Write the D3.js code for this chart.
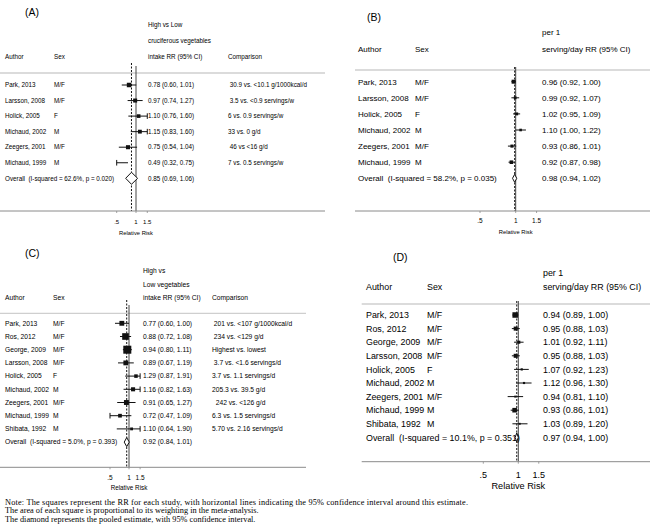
<!DOCTYPE html>
<html>
<head>
<meta charset="utf-8">
<script src="https://cdn.jsdelivr.net/npm/d3@7"></script>
<style>
  body { margin: 0; background: #fff; }
  svg text { font-family: "Liberation Sans", Arial, sans-serif; fill: #000; white-space: pre; }
  svg text.note { font-family: "Liberation Serif", "Times New Roman", serif; }
</style>
</head>
<body>
<div class="chart"></div>
<script>
// ---- data ----
// (A) high vs low cruciferous vegetables
var authorsA = ["Park, 2013", "Larsson, 2008", "Holick, 2005", "Michaud, 2002", "Zeegers, 2001", "Michaud, 1999"];
var sexA = ["M/F", "M/F", "F", "M", "M/F", "M"];
var rrA = [0.78, 0.97, 1.10, 1.15, 0.75, 0.49];
var loA = [0.60, 0.74, 0.76, 0.83, 0.54, 0.32];
var hiA = [1.01, 1.27, 1.60, 1.60, 1.04, 0.75];
var weightA = [21.5, 17.2, 14.0, 15.6, 17.5, 14.2];
var compA = [" 30.9 vs. <10.1 g/1000kcal/d", " 3.5 vs. <0.9 servings/w", "6 vs. 0.9 servings/w", "33 vs. 0 g/d", " 46 vs <16 g/d", "7 vs. 0.5 servings/w"];
var overallA = [0.85, 0.69, 1.06];
var hetA = "Overall  (I-squared = 62.6%, p = 0.020)";

// (B) per 1 serving/day cruciferous
var authorsB = authorsA;
var sexB = sexA;
var rrB = [0.96, 0.99, 1.02, 1.10, 0.93, 0.92];
var loB = [0.92, 0.92, 0.95, 1.00, 0.86, 0.87];
var hiB = [1.00, 1.07, 1.09, 1.22, 1.01, 0.98];
var weightB = [26.0, 12.5, 14.0, 11.0, 15.5, 21.0];
var overallB = [0.98, 0.94, 1.02];
var hetB = "Overall  (I-squared = 58.2%, p = 0.035)";

// (C) high vs low vegetables
var authorsC = ["Park, 2013", "Ros, 2012", "George, 2009", "Larsson, 2008", "Holick, 2005", "Michaud, 2002", "Zeegers, 2001", "Michaud, 1999", "Shibata, 1992"];
var sexC = ["M/F", "M/F", "M/F", "M/F", "F", "M", "M/F", "M", "M"];
var rrC = [0.77, 0.88, 0.94, 0.89, 1.29, 1.16, 0.91, 0.72, 1.10];
var loC = [0.60, 0.72, 0.80, 0.67, 0.87, 0.82, 0.65, 0.47, 0.64];
var hiC = [1.00, 1.08, 1.11, 1.19, 1.91, 1.63, 1.27, 1.09, 1.90];
var weightC = [9.5, 17.8, 26.0, 9.4, 5.0, 6.7, 9.8, 5.6, 3.2];
var compC = [" 201 vs. <107 g/1000kcal/d", " 234 vs. <129 g/d", "Highest vs. lowest", " 3.7 vs. <1.6 servings/d", "3.7 vs. 1.1 servings/d", "205.3 vs. 39.5 g/d", "  242 vs. <126 g/d", "6.3 vs. 1.5 servings/d", "5.70 vs. 2.16 servings/d"];
var overallC = [0.92, 0.84, 1.01];
var hetC = "Overall  (I-squared = 5.0%, p = 0.393)";

// (D) per 1 serving/day vegetables
var authorsD = authorsC;
var sexD = sexC;
var rrD = [0.94, 0.95, 1.01, 0.95, 1.07, 1.12, 0.94, 0.93, 1.03];
var loD = [0.89, 0.88, 0.92, 0.88, 0.92, 0.96, 0.81, 0.86, 0.89];
var hiD = [1.00, 1.03, 1.11, 1.03, 1.23, 1.30, 1.10, 1.01, 1.20];
var weightD = [27.5, 14.8, 8.6, 14.8, 4.4, 4.2, 3.3, 19.2, 3.2];
var overallD = [0.97, 0.94, 1.00];
var hetD = "Overall  (I-squared = 10.1%, p = 0.351)";

var tickValues = [0.5, 1, 1.5];
var tickLabels = [".5", "1", "1.5"];
var notes = [
  "Note: The squares represent the RR for each study, with horizontal lines indicating the 95% confidence interval around this estimate.",
  "The area of each square is proportional to its weighting in the meta-analysis.",
  "The diamond represents the pooled estimate, with 95% confidence interval."
];

// ---- layout ----
var width = 650, height = 527;
var svg = d3.select(".chart").append("svg")
  .attr("width", width)
  .attr("height", height);

var panels = [
  { tag: "(A)", tagX: 25, tagY: 16, fs: 6.3, tickFs: 6, rrFs: 5.8, tickDy: 10.7, rrDy: 22,
    authors: authorsA, sex: sexA, rr: rrA, lo: loA, hi: hiA, w: weightA, comp: compA,
    overall: overallA, het: hetA,
    rrHead: ["High vs Low", "cruciferous vegetables", "intake RR (95% CI)"], headY0: 25, headStep: 16,
    xAuthor: 5, xSex: 54, xRR: 148, xComp: 228,
    sepY: 73, left: 0, right: 325, row0: 85, step: 15.55, axisY: 211,
    x05: 116.7, x1: 136, sq: 0.97, dia: 6, nullTop: 66, dashTop: 63 },
  { tag: "(B)", tagX: 367, tagY: 21, fs: 8, tickFs: 6.5, rrFs: 5.8, tickDy: 9.5, rrDy: 21,
    authors: authorsB, sex: sexB, rr: rrB, lo: loB, hi: hiB, w: weightB, comp: null,
    overall: overallB, het: hetB,
    rrHead: ["per 1", "serving/day RR (95% CI)"], headY0: 32, headStep: 17,
    xAuthor: 358, xSex: 415, xRR: 542,
    sepY: 70, left: 355, right: 650, row0: 81.7, step: 16.1, axisY: 211,
    x05: 480, x1: 515.7, sq: 0.78, dia: 4, nullTop: 67, dashTop: 67 },
  { tag: "(C)", tagX: 25, tagY: 257, fs: 6.7, tickFs: 6.5, rrFs: 6.3, tickDy: 10, rrDy: 20,
    authors: authorsC, sex: sexC, rr: rrC, lo: loC, hi: hiC, w: weightC, comp: compC,
    overall: overallC, het: hetC,
    rrHead: ["High vs", "Low vegetables", "intake RR (95% CI)"], headY0: 271, headStep: 13.2,
    xAuthor: 5, xSex: 53, xRR: 143, xComp: 212,
    sepY: 313.3, left: 0, right: 306, row0: 323.3, step: 13.2, axisY: 467.3,
    x05: 110, x1: 129, sq: 1.57, dia: 4.5, nullTop: 305, dashTop: 300 },
  { tag: "(D)", tagX: 393, tagY: 261, fs: 8.9, tickFs: 9, rrFs: 9.2, tickDy: 13.3, rrDy: 24.3,
    authors: authorsD, sex: sexD, rr: rrD, lo: loD, hi: hiD, w: weightD, comp: null,
    overall: overallD, het: hetD,
    rrHead: ["per 1", "serving/day RR (95% CI)"], headY0: 273.3, headStep: 14,
    xAuthor: 366, xSex: 427, xRR: 543,
    sepY: 304, left: 361.7, right: 650, row0: 315, step: 13.6, axisY: 461.7,
    x05: 483.3, x1: 518.3, sq: 1.05, dia: 4.5, nullTop: 301, dashTop: 301 }
];

var fmt = d3.format(".2f");

panels.forEach(function (p) {
  var g = svg.append("g");
  var x = d3.scaleLog().domain([0.5, 1]).range([p.x05, p.x1]);
  var nRows = p.authors.length;
  var rowY = function (i) { return p.row0 + i * p.step; };
  var overallY = rowY(nRows);

  g.append("text").attr("x", p.tagX).attr("y", p.tagY)
    .style("font-size", "10.5px").text(p.tag);

  // column headers
  var headLast = p.headY0 + (p.rrHead.length - 1) * p.headStep;
  p.rrHead.forEach(function (t, i) {
    g.append("text").attr("x", p.xRR).attr("y", p.headY0 + i * p.headStep)
      .attr("dy", "0.35em").style("font-size", p.fs + "px").text(t);
  });
  g.append("text").attr("x", p.xAuthor).attr("y", headLast).attr("dy", "0.35em")
    .style("font-size", p.fs + "px").text("Author");
  g.append("text").attr("x", p.xSex).attr("y", headLast).attr("dy", "0.35em")
    .style("font-size", p.fs + "px").text("Sex");
  if (p.comp) {
    g.append("text").attr("x", p.xComp).attr("y", headLast).attr("dy", "0.35em")
      .style("font-size", p.fs + "px").text("Comparison");
  }

  g.append("line")
    .attr("x1", p.left).attr("x2", p.right)
    .attr("y1", p.sepY).attr("y2", p.sepY)
    .attr("stroke", "#cfcfcf").attr("stroke-width", 1.3);

  // null line and pooled estimate line
  g.append("line")
    .attr("x1", x(1)).attr("x2", x(1))
    .attr("y1", p.nullTop).attr("y2", p.axisY)
    .attr("stroke", "#444").attr("stroke-width", 1);
  g.append("line")
    .attr("x1", x(p.overall[0])).attr("x2", x(p.overall[0]))
    .attr("y1", p.dashTop).attr("y2", p.axisY)
    .attr("stroke", "#111").attr("stroke-width", 1)
    .attr("stroke-dasharray", "2,1.5");

  var rows = d3.range(nRows).map(function (i) {
    return { i: i, author: p.authors[i], sex: p.sex[i], rr: p.rr[i], lo: p.lo[i], hi: p.hi[i],
             w: p.w[i], comp: p.comp ? p.comp[i] : null };
  });

  var row = g.selectAll(".row").data(rows).enter().append("g").attr("class", "row");

  row.append("text").attr("x", p.xAuthor).attr("y", function (d) { return rowY(d.i); })
    .attr("dy", "0.35em").style("font-size", p.fs + "px").text(function (d) { return d.author; });
  row.append("text").attr("x", p.xSex).attr("y", function (d) { return rowY(d.i); })
    .attr("dy", "0.35em").style("font-size", p.fs + "px").text(function (d) { return d.sex; });
  row.append("text").attr("x", p.xRR).attr("y", function (d) { return rowY(d.i); })
    .attr("dy", "0.35em").style("font-size", p.fs + "px")
    .text(function (d) { return fmt(d.rr) + " (" + fmt(d.lo) + ", " + fmt(d.hi) + ")"; });
  if (p.comp) {
    row.append("text").attr("x", p.xComp).attr("y", function (d) { return rowY(d.i); })
      .attr("dy", "0.35em").style("font-size", p.fs + "px").text(function (d) { return d.comp; });
  }

  // confidence intervals, clipped to the axis range
  row.append("line")
    .attr("x1", function (d) { return x(Math.max(d.lo, 0.5)); })
    .attr("x2", function (d) { return x(Math.min(d.hi, 1.5)); })
    .attr("y1", function (d) { return rowY(d.i); })
    .attr("y2", function (d) { return rowY(d.i); })
    .attr("stroke", "#111").attr("stroke-width", 1);
  row.filter(function (d) { return d.lo < 0.5; }).append("line")
    .attr("x1", x(0.5)).attr("x2", x(0.5))
    .attr("y1", function (d) { return rowY(d.i) - 2.8; })
    .attr("y2", function (d) { return rowY(d.i) + 2.8; })
    .attr("stroke", "#111").attr("stroke-width", 1);
  row.filter(function (d) { return d.hi > 1.5; }).append("line")
    .attr("x1", x(1.5)).attr("x2", x(1.5))
    .attr("y1", function (d) { return rowY(d.i) - 2.8; })
    .attr("y2", function (d) { return rowY(d.i) + 2.8; })
    .attr("stroke", "#111").attr("stroke-width", 1);

  // weight squares
  row.filter(function (d) { return d.rr >= 0.5 && d.rr <= 1.5; }).append("rect")
    .attr("x", function (d) { return x(d.rr) - Math.sqrt(d.w) * p.sq / 2; })
    .attr("y", function (d) { return rowY(d.i) - Math.sqrt(d.w) * p.sq / 2; })
    .attr("width", function (d) { return Math.sqrt(d.w) * p.sq; })
    .attr("height", function (d) { return Math.sqrt(d.w) * p.sq; })
    .attr("fill", "#111");

  // pooled row
  g.append("text").attr("x", p.xAuthor).attr("y", overallY).attr("dy", "0.35em")
    .style("font-size", p.fs + "px").text(p.het);
  g.append("text").attr("x", p.xRR).attr("y", overallY).attr("dy", "0.35em")
    .style("font-size", p.fs + "px")
    .text(fmt(p.overall[0]) + " (" + fmt(p.overall[1]) + ", " + fmt(p.overall[2]) + ")");
  g.append("path")
    .attr("d", "M" + x(p.overall[1]) + "," + overallY +
               "L" + x(p.overall[0]) + "," + (overallY - p.dia) +
               "L" + x(p.overall[2]) + "," + overallY +
               "L" + x(p.overall[0]) + "," + (overallY + p.dia) + "Z")
    .attr("fill", "#fff").attr("stroke", "#111").attr("stroke-width", 1);

  // axis
  g.append("line")
    .attr("x1", p.left).attr("x2", p.right)
    .attr("y1", p.axisY).attr("y2", p.axisY)
    .attr("stroke", "#8a8a8a").attr("stroke-width", 1);
  tickValues.forEach(function (v, i) {
    g.append("line").attr("x1", x(v)).attr("x2", x(v))
      .attr("y1", p.axisY).attr("y2", p.axisY + 2)
      .attr("stroke", "#8a8a8a").attr("stroke-width", 0.8);
    g.append("text").attr("x", x(v)).attr("y", p.axisY + p.tickDy)
      .attr("dy", "0.35em").attr("text-anchor", "middle")
      .style("font-size", p.tickFs + "px").text(tickLabels[i]);
  });
  g.append("text").attr("x", x(1)).attr("y", p.axisY + p.rrDy)
    .attr("dy", "0.35em").attr("text-anchor", "middle")
    .style("font-size", p.rrFs + "px").text("Relative Risk");
});

// footnote
svg.selectAll(".note").data(notes).enter().append("text")
  .attr("class", "note")
  .attr("x", 5)
  .attr("y", function (d, i) { return 504.5 + i * 8.7; })
  .style("font-size", "8.3px")
  .text(function (d) { return d; })
  .each(function (d, i) {
    if (i === 0) d3.select(this).attr("textLength", 463).attr("lengthAdjust", "spacing");
  });
</script>
</body>
</html>
